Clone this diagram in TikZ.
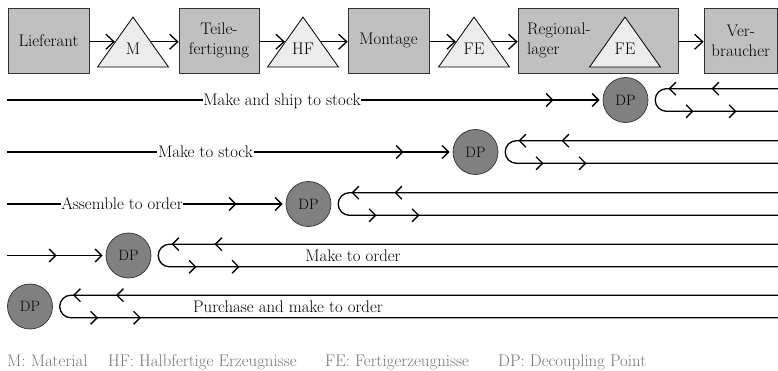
\documentclass[tikz,border=0pt]{standalone}
\usepackage{fontspec}
\usetikzlibrary{arrows.meta,shapes.geometric,calc}
\definecolor{boxgray}{RGB}{192,192,192}
\definecolor{trigray}{RGB}{236,236,236}
\definecolor{dpgray}{RGB}{128,128,128}
\definecolor{edgegray}{RGB}{50,50,50}
\definecolor{notegray}{RGB}{118,118,118}
\newcommand\txtfont{\fontsize{16.8}{20}\selectfont}

% incoming material flow ending at a decoupling point, with two arrow heads
\newcommand\inflow[2]{%
  \draw[tip] (#1) -- ($(#2)+(-26,0)$);
  \draw[tip] ($(#2)+(-72.5,0)$) -- ($(#2)+(-72,0)$);}

% order loop to the right of a decoupling point
\newcommand\retloop[1]{%
  \coordinate (#1u) at ($(#1)+(41,-11.3)$);
  \coordinate (#1l) at ($(#1)+(41,11.3)$);
  \draw[flow] (edge |- #1u) -- (#1u) arc[start angle=90,end angle=270,radius=11.3pt] -- (edge |- #1l);
  \draw[tip] ($(#1u)+(2.5,0)$) -- ($(#1u)+(2,0)$);
  \draw[tip] ($(#1u)+(45.5,0)$) -- ($(#1u)+(45,0)$);
  \draw[tip] ($(#1l)+(26.5,0)$) -- ($(#1l)+(27,0)$);
  \draw[tip] ($(#1l)+(69.5,0)$) -- ($(#1l)+(70,0)$);}

\begin{document}
\begin{tikzpicture}[x=1pt,y=-1pt,
  stage/.style={draw=edgegray, line width=0.8pt, fill=boxgray, minimum height=65pt,
    inner sep=0pt, align=center, font=\txtfont},
  stock/.style={draw=black, line width=0.8pt, fill=trigray, isosceles triangle,
    isosceles triangle stretches, shape border rotate=90, minimum width=71pt,
    minimum height=50pt, inner sep=0pt, anchor=apex},
  tritext/.style={font=\txtfont, inner sep=0pt},
  flow/.style={line width=1.3pt},
  tip/.style={flow, -{Straight Barb[length=6.5pt,width=13pt]}},
  bigtip/.style={line width=1.3pt, -{Straight Barb[length=8pt,width=15pt]}},
  dp/.style={circle, draw=edgegray, line width=0.7pt, fill=dpgray, minimum size=45pt,
    inner sep=0pt, font=\fontsize{15}{18}\selectfont},
  rowlbl/.style={font=\txtfont, inner xsep=0.5pt, inner ysep=0pt, anchor=base},
  note/.style={font=\fontsize{16.8}{19}\selectfont, text=notegray, anchor=base west, inner sep=0pt}
]
\path[use as bounding box, fill=white] (0,0) rectangle (778,371);
\coordinate (edge) at (778,0);

% supply chain stages and stock points
\node[stage, minimum width=81pt] (lief) at (48.5,40.5) {Lieferant};
\node[stock] (m) at (133,16) {};
\node[tritext] (mt) at ($(m.apex)+(0,32.7)$) {M};
\node[stage, minimum width=80pt] (teile) at (219,40.5) {Teile-\\fertigung};
\node[stock] (hf) at (303,16) {};
\node[tritext] (hft) at ($(hf.apex)+(0,32.7)$) {HF};
\node[stage, minimum width=81pt] (mont) at (388.5,40.5) {Montage};
\node[stock] (fe) at (474,16) {};
\node[tritext] (fet) at ($(fe.apex)+(0,32.7)$) {FE};
\node[stage, minimum width=160pt] (reg) at (598,40.5) {};
\node[tritext, align=left, anchor=west] (regt) at (527,40.5) {Regional-\\lager};
\node[stock] (fe2) at (625,16) {};
\node[tritext] (fe2t) at ($(fe2.apex)+(0,32.7)$) {FE};
\node[stage, minimum width=73.5pt] (verb) at (740.75,40.5) {Ver-\\braucher};

\draw[bigtip] (lief.east |- m.left side) -- (m.left side);
\draw[bigtip] (m.right side) -- (m.right side -| teile.west);
\draw[bigtip] (teile.east |- hf.left side) -- (hf.left side);
\draw[bigtip] (hf.right side) -- (hf.right side -| mont.west);
\draw[bigtip] (mont.east |- fe.left side) -- (fe.left side);
\draw[bigtip] (fe.right side) -- (fe.right side -| reg.west);
\draw[bigtip] (reg.east |- fe.right side) -- (fe.right side -| verb.west);

% make and ship to stock
\node[dp] (dp1) at (625.5,100) {DP};
\coordinate (s1) at (7,100);
\node[rowlbl] (l1) at (282,105.5) {Make and ship to stock};
\draw[flow] (s1) -- (s1 -| l1.west);
\inflow{s1 -| l1.east}{dp1}
\retloop{dp1}

% make to stock
\node[dp] (dp2) at (475.5,152) {DP};
\coordinate (s2) at (7,152);
\node[rowlbl] (l2) at (205.5,157.5) {Make to stock};
\draw[flow] (s2) -- (s2 -| l2.west);
\inflow{s2 -| l2.east}{dp2}
\retloop{dp2}

% assemble to order
\node[dp] (dp3) at (308.5,204) {DP};
\coordinate (s3) at (7,204);
\node[rowlbl] (l3) at (122,209.5) {Assemble to order};
\draw[flow] (s3) -- (s3 -| l3.west);
\inflow{s3 -| l3.east}{dp3}
\retloop{dp3}

% make to order
\node[dp] (dp4) at (128.5,255.5) {DP};
\coordinate (s4) at (7,255.5);
\inflow{s4}{dp4}
\retloop{dp4}
\node[rowlbl] (l4) at (353,261.5) {Make to order};

% purchase and make to order
\node[dp] (dp5) at (30,306.5) {DP};
\retloop{dp5}
\node[rowlbl] (l5) at (288,312) {Purchase and make to order};

% legend
\node[note] (n1) at (7,366) {M: Material};
\node[note] (n2) at (108,366) {HF: Halbfertige Erzeugnisse};
\node[note] (n3) at (325,366) {FE: Fertigerzeugnisse};
\node[note] (n4) at (498,366) {DP: Decoupling Point};
\end{tikzpicture}
\end{document}
